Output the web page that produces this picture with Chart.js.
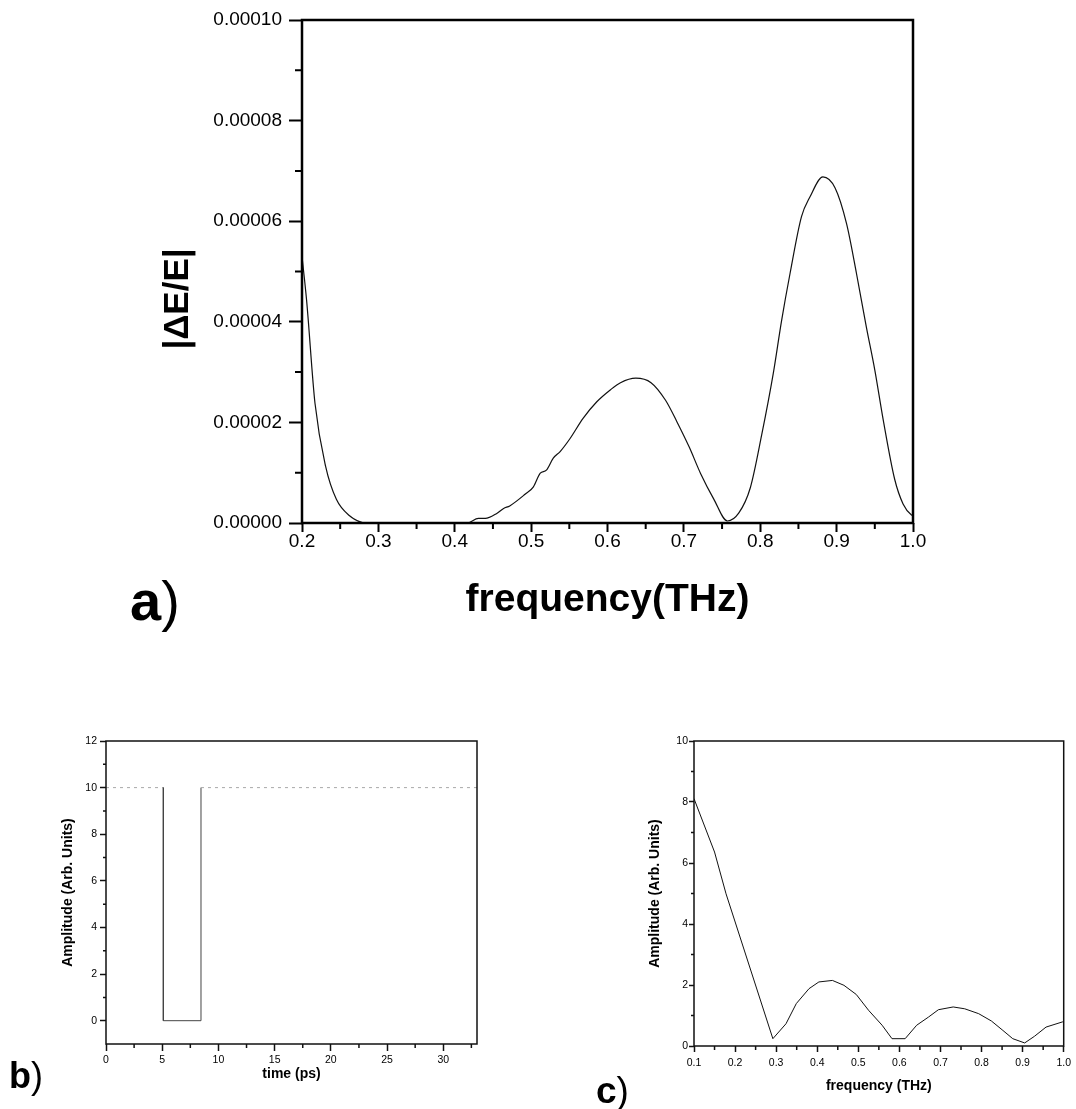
<!DOCTYPE html>
<html>
<head>
<meta charset="utf-8">
<script src="https://cdn.jsdelivr.net/npm/chart.js@4.4.1/dist/chart.umd.min.js"></script>
<style>
html,body{margin:0;padding:0;background:#fff;}
body{width:1076px;height:1109px;overflow:hidden;position:relative;font-family:'Liberation Sans',Arial,Helvetica,sans-serif;}
.wrap{position:absolute;}
.lbl{position:absolute;line-height:1;color:#000;white-space:nowrap;}
.lbl b{font-weight:bold;}
.lbl span{font-weight:normal;}
</style>
</head>
<body>
<div class="wrap" style="left:0;top:0;"><canvas id="ca" width="1076" height="650"></canvas></div>
<div class="wrap" style="left:0;top:720px;"><canvas id="cb" width="500" height="389"></canvas></div>
<div class="wrap" style="left:560px;top:720px;"><canvas id="cc" width="516" height="389"></canvas></div>
<div class="lbl" style="left:130px;top:573px;font-size:56px;"><b>a</b><span>)</span></div>
<div class="lbl" style="left:9px;top:1058px;font-size:36px;"><b>b</b><span>)</span></div>
<div class="lbl" style="left:596px;top:1072px;font-size:37px;"><b>c</b><span>)</span></div>
<script>
// ---------- panel a : |dE/E| vs frequency ----------
const freqA = [0.200,0.206,0.217,0.231,0.245,0.261,0.285,0.300,0.350,0.400,0.416,0.431,0.440,0.455,0.464,0.472,0.492,0.503,0.512,0.520,0.529,0.538,0.551,0.568,0.586,0.604,0.617,0.637,0.657,0.676,0.691,0.707,0.722,0.739,0.757,0.772,0.787,0.802,0.817,0.828,0.839,0.854,0.865,0.882,0.898,0.913,0.926,0.939,0.950,0.961,0.976,0.987,0.998,1.000];
const dEE = [5.30e-5,4.43e-5,2.38e-5,1.12e-5,0.47e-5,0.16e-5,0,0,0,0,0,0.09e-5,0.09e-5,0.19e-5,0.29e-5,0.34e-5,0.57e-5,0.72e-5,0.99e-5,1.05e-5,1.29e-5,1.42e-5,1.68e-5,2.08e-5,2.41e-5,2.65e-5,2.79e-5,2.88e-5,2.79e-5,2.44e-5,2.01e-5,1.51e-5,0.98e-5,0.48e-5,0.04e-5,0.20e-5,0.70e-5,1.76e-5,2.97e-5,4.03e-5,4.96e-5,6.09e-5,6.48e-5,6.88e-5,6.66e-5,5.95e-5,4.96e-5,3.89e-5,3.04e-5,2.05e-5,0.87e-5,0.38e-5,0.16e-5,0.15e-5];
const aXTicks = [0.2,0.3,0.4,0.5,0.6,0.7,0.8,0.9,1.0];
const aXMinor = [0.25,0.35,0.45,0.55,0.65,0.75,0.85,0.95];
const aYTicks = [0,0.00002,0.00004,0.00006,0.00008,0.0001];
const aYMinor = [0.00001,0.00003,0.00005,0.00007,0.00009];
const aXTitle = 'frequency(THz)';
const aYTitle = '|\u0394E/E|';

// ---------- panel b : amplitude vs time ----------
const timeB = [0,5.1,5.1,8.45,8.45,33];
const ampB = [10,10,0,0,10,10];
const bXTicks = [0,5,10,15,20,25,30];
const bXMinor = [2.5,7.5,12.5,17.5,22.5,27.5,32.5];
const bYTicks = [0,2,4,6,8,10,12];
const bYMinor = [1,3,5,7,9,11];
const bXTitle = 'time (ps)';
const bYTitle = 'Amplitude (Arb. Units)';

// ---------- panel c : amplitude vs frequency ----------
const freqC = [0.100,0.150,0.178,0.292,0.324,0.349,0.380,0.404,0.437,0.465,0.495,0.525,0.558,0.582,0.614,0.642,0.671,0.695,0.731,0.759,0.793,0.824,0.852,0.876,0.905,0.929,0.957,0.997,1.000];
const ampC = [8.11,6.36,4.99,0.24,0.73,1.39,1.88,2.10,2.15,1.99,1.69,1.17,0.68,0.24,0.24,0.68,0.95,1.19,1.28,1.22,1.06,0.82,0.51,0.24,0.10,0.32,0.62,0.79,0.80];
const cXTicks = [0.1,0.2,0.3,0.4,0.5,0.6,0.7,0.8,0.9,1.0];
const cXMinor = [0.15,0.25,0.35,0.45,0.55,0.65,0.75,0.85,0.95];
const cYTicks = [0,2,4,6,8,10];
const cYMinor = [1,3,5,7,9];
const cXTitle = 'frequency (THz)';
const cYTitle = 'Amplitude (Arb. Units)';

const FF = "'Liberation Sans', Arial, Helvetica, sans-serif";

const frameTicks = {
  id: 'frameTicks',
  afterDraw(chart, args, o) {
    const {ctx, chartArea: a, scales} = chart;
    ctx.save();
    ctx.strokeStyle = o.color;
    ctx.lineWidth = o.tickWidth;
    ctx.beginPath();
    for (const v of o.xMinor) {
      const x = scales.x.getPixelForValue(v);
      ctx.moveTo(x, a.bottom); ctx.lineTo(x, a.bottom + o.xMinorLen);
    }
    for (const v of o.yMinor) {
      const y = scales.y.getPixelForValue(v);
      ctx.moveTo(a.left, y); ctx.lineTo(a.left - o.yMinorLen, y);
    }
    ctx.stroke();
    ctx.lineWidth = o.frameWidth;
    ctx.strokeRect(a.left, a.top, a.right - a.left, a.bottom - a.top);
    ctx.restore();
  }
};
Chart.register(frameTicks);

function pts(xs, ys) { return xs.map((x, i) => ({x: x, y: ys[i]})); }
function setTicks(arr) { return s => { s.ticks = arr.map(v => ({value: v})); }; }

// ---- chart a ----
new Chart(document.getElementById('ca'), {
  type: 'line',
  data: {datasets: [{data: pts(freqA, dEE), borderColor: '#111', borderWidth: 1.2, pointRadius: 0, cubicInterpolationMode: 'monotone', fill: false}]},
  options: {
    responsive: false, animation: false, events: [],
    layout: {padding: {top: 20, right: 163, bottom: 72, left: 0}},
    plugins: {
      legend: {display: false}, tooltip: {enabled: false},
      title: {display: true, position: 'left', text: aYTitle, color: '#000', font: {family: FF, size: 35, weight: 'bold'}, padding: {top: 157, bottom: 0}},
      frameTicks: {color: '#000', tickWidth: 2, frameWidth: 2.5, xMinor: aXMinor, yMinor: aYMinor, xMinorLen: 6, yMinorLen: 7}
    },
    scales: {
      x: {type: 'linear', min: 0.2, max: 1.0, afterBuildTicks: setTicks(aXTicks), afterFit: s => { s.height = 55; },
        ticks: {autoSkip: false, maxRotation: 0, padding: 0, color: '#000', font: {family: FF, size: 19, lineHeight: 1}, callback: v => Number(v).toFixed(1)},
        grid: {drawOnChartArea: false, drawTicks: true, tickLength: 9, tickWidth: 2, tickColor: '#000'},
        border: {display: false},
        title: {display: true, text: aXTitle, color: '#000', font: {family: FF, size: 39, weight: 'bold'}, padding: {top: 0, bottom: -46}}},
      y: {type: 'linear', min: 0, max: 0.0001, afterBuildTicks: setTicks(aYTicks), afterFit: s => { s.width = 103; },
        ticks: {padding: 7, color: '#000', font: {family: FF, size: 19}, callback: v => Number(v).toFixed(5)},
        grid: {drawOnChartArea: false, drawTicks: true, tickLength: 13, tickWidth: 2, tickColor: '#000'},
        border: {display: false}}
    }
  }
});

// ---- chart b ----
const isTop = c => c.p0.parsed.y === 10 && c.p1.parsed.y === 10;
new Chart(document.getElementById('cb'), {
  type: 'line',
  data: {datasets: [{data: pts(timeB, ampB), borderColor: '#444', borderWidth: 1, pointRadius: 0, tension: 0, fill: false,
    segment: {borderColor: c => isTop(c) ? '#a8a8a8' : '#444', borderDash: c => isTop(c) ? [3, 4] : []}}]},
  options: {
    responsive: false, animation: false, events: [],
    layout: {padding: {top: 21, right: 23, bottom: 0, left: 0}},
    plugins: {
      legend: {display: false}, tooltip: {enabled: false},
      frameTicks: {color: '#111', tickWidth: 1.5, frameWidth: 1.5, xMinor: bXMinor, yMinor: bYMinor, xMinorLen: 4, yMinorLen: 3}
    },
    scales: {
      x: {type: 'linear', min: 0, max: 33, afterBuildTicks: setTicks(bXTicks), afterFit: s => { s.height = 65; },
        ticks: {autoSkip: false, maxRotation: 0, padding: 3, color: '#000', font: {family: FF, size: 10.5}, callback: v => String(v)},
        grid: {drawOnChartArea: false, drawTicks: true, tickLength: 7, tickWidth: 1.5, tickColor: '#111'},
        border: {display: false},
        title: {display: true, text: bXTitle, color: '#000', font: {family: FF, size: 14, weight: 'bold'}, padding: {top: 0, bottom: 26.6}}},
      y: {type: 'linear', min: -1, max: 12, afterBuildTicks: setTicks(bYTicks), afterFit: s => { s.width = 106; },
        ticks: {padding: 3, color: '#000', font: {family: FF, size: 10.5}, callback: v => String(v)},
        grid: {drawOnChartArea: false, drawTicks: true, tickLength: 6, tickWidth: 1.5, tickColor: '#111'},
        border: {display: false},
        title: {display: true, text: bYTitle, color: '#000', font: {family: FF, size: 14, weight: 'bold'}, padding: {top: 59.6, bottom: 0}}}
    }
  }
});

// ---- chart c ----
new Chart(document.getElementById('cc'), {
  type: 'line',
  data: {datasets: [{data: pts(freqC, ampC), borderColor: '#111', borderWidth: 1, pointRadius: 0, tension: 0, fill: false}]},
  options: {
    responsive: false, animation: false, events: [],
    layout: {padding: {top: 21, right: 10, bottom: 0, left: 0}},
    plugins: {
      legend: {display: false}, tooltip: {enabled: false},
      frameTicks: {color: '#111', tickWidth: 1.5, frameWidth: 1.5, xMinor: cXMinor, yMinor: cYMinor, xMinorLen: 4, yMinorLen: 3}
    },
    scales: {
      x: {type: 'linear', min: 0.1, max: 1.0, afterBuildTicks: setTicks(cXTicks), afterFit: s => { s.height = 63; },
        ticks: {autoSkip: false, maxRotation: 0, padding: 5, color: '#000', font: {family: FF, size: 10.5}, callback: v => Number(v).toFixed(1)},
        grid: {drawOnChartArea: false, drawTicks: true, tickLength: 6, tickWidth: 1.5, tickColor: '#111'},
        border: {display: false},
        title: {display: true, text: cXTitle, color: '#000', font: {family: FF, size: 14, weight: 'bold'}, padding: {top: 0, bottom: 14}}},
      y: {type: 'linear', min: 0, max: 10, afterBuildTicks: setTicks(cYTicks), afterFit: s => { s.width = 134; },
        ticks: {padding: 1, color: '#000', font: {family: FF, size: 10.5}, callback: v => String(v)},
        grid: {drawOnChartArea: false, drawTicks: true, tickLength: 5, tickWidth: 1.5, tickColor: '#111'},
        border: {display: false},
        title: {display: true, text: cYTitle, color: '#000', font: {family: FF, size: 14, weight: 'bold'}, padding: {top: 87, bottom: 0}}}
    }
  }
});
</script>
</body>
</html>
